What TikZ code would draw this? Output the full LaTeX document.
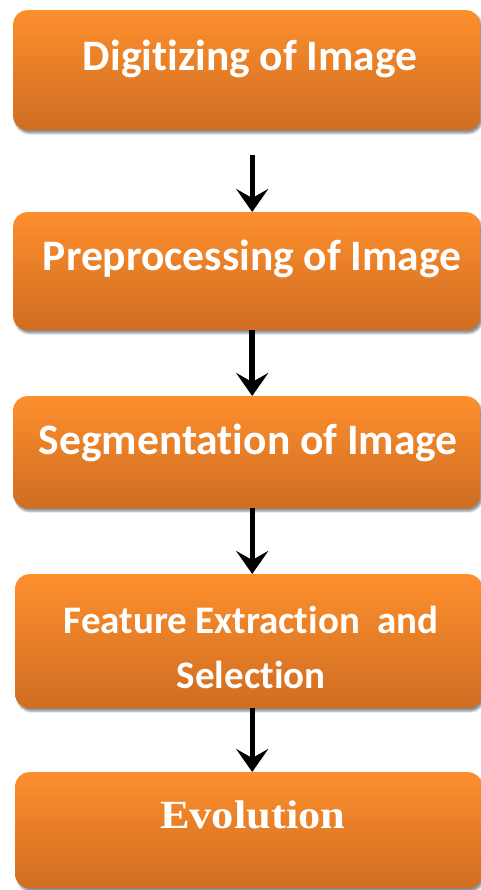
\documentclass[tikz,border=0pt]{standalone}
\usepackage{fontspec}
\setmainfont{Carlito}[RawFeature=-liga]
\newfontfamily\timesf{Liberation Serif}
\usetikzlibrary{shadows.blur,arrows.meta,calc}
\definecolor{otop}{RGB}{253,143,45}
\definecolor{obot}{RGB}{207,109,34}
\tikzset{
  box/.style={rectangle, rounded corners=14pt, top color=otop, bottom color=obot,
    draw=none, text=white, font=\bfseries\fontsize{43.5}{50}\selectfont,
    inner sep=0pt, minimum width=467pt, anchor=north west,
    blur shadow={shadow xshift=2pt, shadow yshift=-3pt, shadow blur steps=6, shadow opacity=45}},
  arr/.style={line width=5pt, -{Stealth[length=23pt,width=32pt,inset=9pt]}},
}
\begin{document}
\begin{tikzpicture}[x=1pt,y=-1pt]
\useasboundingbox (0,0) rectangle (481,890);
\node[box, text height=60pt, text depth=60pt] (b1) at (13,10) {\hspace*{7pt}Digitizing of Image};
\node[box, text height=58pt, text depth=60pt] (b2) at (13,212) {\hspace*{11pt}Preprocessing of Image};
\node[box, text height=58pt, text depth=54pt] (b3) at (13,396) {\hspace*{3pt}Segmentation of Image};
\node[box, minimum height=134pt, font=\bfseries\fontsize{39}{55}\selectfont, align=center] (b4) at (15,574) {\rule{0pt}{40pt}\hspace*{5pt}Feature Extraction\ \ and\\\hspace*{5pt}Selection};
\node[box, text height=56pt, text depth=60pt, font=\timesf\bfseries\fontsize{40}{48}\selectfont] (b5) at (15,772) {\hspace*{8pt}\scalebox{1.11}[1]{Evolution}};
\draw[arr] ($(b1.south)+(5.5,25)$) -- ($(b2.north)+(5.5,0)$);
\draw[arr, line width=5.5pt] ($(b2.south)+(5.5,0)$) -- ($(b3.north)+(5.5,0)$);
\draw[arr] ($(b3.south)+(5.5,0)$) -- ($(b4.north)+(3.5,0)$);
\draw[arr] ($(b4.south)+(3.5,0)$) -- ($(b5.north)+(3.5,0)$);
\end{tikzpicture}
\end{document}
